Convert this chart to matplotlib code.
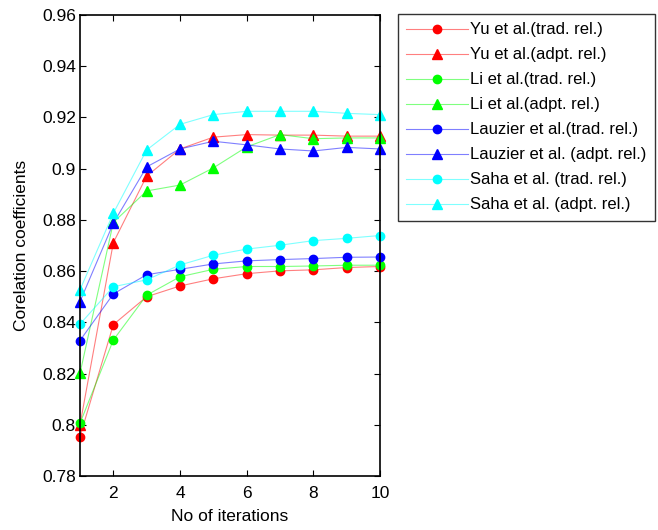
import numpy as np
import matplotlib
matplotlib.use("Agg")
import matplotlib.pyplot as plt

plt.rcParams['font.family'] = ['Liberation Sans', 'DejaVu Sans']

iterations = np.arange(1, 11)

# traditional relaxation
yu_trad = [0.7954, 0.8391, 0.8500, 0.8542, 0.8570, 0.8590, 0.8601, 0.8605, 0.8614, 0.8618]
li_trad = [0.8006, 0.8331, 0.8506, 0.8578, 0.8607, 0.8618, 0.8618, 0.8620, 0.8623, 0.8623]
lauzier_trad = [0.8329, 0.8511, 0.8586, 0.8607, 0.8628, 0.8640, 0.8645, 0.8649, 0.8654, 0.8655]
saha_trad = [0.8393, 0.8539, 0.8566, 0.8624, 0.8662, 0.8686, 0.8701, 0.8719, 0.8728, 0.8739]

# adaptive relaxation
yu_adpt = [0.8000, 0.8711, 0.8971, 0.9077, 0.9123, 0.9133, 0.9131, 0.9131, 0.9127, 0.9127]
li_adpt = [0.8201, 0.8790, 0.8913, 0.8936, 0.9003, 0.9085, 0.9133, 0.9117, 0.9120, 0.9120]
lauzier_adpt = [0.8481, 0.8787, 0.9007, 0.9077, 0.9107, 0.9093, 0.9077, 0.9069, 0.9083, 0.9077]
saha_adpt = [0.8527, 0.8826, 0.9073, 0.9173, 0.9211, 0.9224, 0.9224, 0.9224, 0.9216, 0.9211]

series = [
    (yu_trad, 'Yu et al.(trad. rel.)', (1, 0, 0), 'o'),
    (yu_adpt, 'Yu et al.(adpt. rel.)', (1, 0, 0), '^'),
    (li_trad, 'Li et al.(trad. rel.)', (0, 1, 0), 'o'),
    (li_adpt, 'Li et al.(adpt. rel.)', (0, 1, 0), '^'),
    (lauzier_trad, 'Lauzier et al.(trad. rel.)', (0, 0, 1), 'o'),
    (lauzier_adpt, 'Lauzier et al. (adpt. rel.)', (0, 0, 1), '^'),
    (saha_trad, 'Saha et al. (trad. rel.)', (0, 1, 1), 'o'),
    (saha_adpt, 'Saha et al. (adpt. rel.)', (0, 1, 1), '^'),
]

yticks = [0.78, 0.80, 0.82, 0.84, 0.86, 0.88, 0.90, 0.92, 0.94, 0.96]
ytick_labels = ['0.78', '0.8', '0.82', '0.84', '0.86', '0.88', '0.9', '0.92', '0.94', '0.96']
xticks = [2, 4, 6, 8, 10]

fig = plt.figure(figsize=(6.58, 5.30), dpi=100)
ax = fig.add_axes([80 / 658, 54 / 530, 300 / 658, 461 / 530])

for vals, label, col, mk in series:
    ax.plot(iterations, vals, color=col + (0.5,), lw=0.8, marker=mk,
            ms=7 if mk == '^' else 6, mfc=col, mec=col, label=label, clip_on=False)

ax.set_xlim(1, 10)
ax.set_ylim(0.78, 0.96)
ax.set_xticks(xticks)
ax.set_yticks(yticks)
ax.set_yticklabels(ytick_labels)
ax.tick_params(direction='in', top=True, right=True, length=4, width=0.8,
               labelsize=12.5, pad=3)
ax.tick_params(axis='x', pad=7)
for s in ax.spines.values():
    s.set_linewidth(1.2)
ax.set_xlabel('No of iterations', fontsize=12.5, labelpad=6)
ax.set_ylabel('Corelation coefficients', fontsize=12.5, labelpad=9)

leg = fig.legend(loc='upper left', bbox_to_anchor=(398 / 658, 1 - 14 / 530),
                 fontsize=12, numpoints=1, handlelength=3.7, handletextpad=0.15,
                 labelspacing=0.6, borderpad=0.5, borderaxespad=0, fancybox=False,
                 frameon=True)
leg.get_frame().set_edgecolor('black')
leg.get_frame().set_linewidth(1.0)

fig.savefig('out.png', dpi=100)
